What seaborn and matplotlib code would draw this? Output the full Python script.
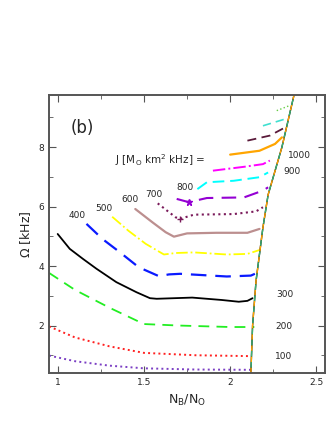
import numpy as np
import pandas as pd
import matplotlib
matplotlib.use("Agg")
import matplotlib.pyplot as plt
import seaborn as sns

# constant-J sequences: N_B/N_O vs Omega [kHz]
j_values = [50, 100, 200, 300, 400, 500, 600, 700, 800, 900, 1000, 1100, 1200, 1300, 1400]
x_50 = [0.95, 1.1, 1.3, 1.5, 1.8, 2.12]
y_50 = [0.99, 0.80, 0.65, 0.56, 0.52, 0.51]
x_100 = [0.95, 1.1, 1.3, 1.5, 1.8, 2.12]
y_100 = [1.97, 1.60, 1.30, 1.08, 1.00, 0.97]
x_200 = [0.95, 1.1, 1.3, 1.5, 1.7, 2.0, 2.14]
y_200 = [3.77, 3.20, 2.60, 2.05, 2.00, 1.95, 1.95]
x_300 = [1.0, 1.07, 1.147, 1.225, 1.34, 1.457, 1.535, 1.574, 1.78, 1.95, 2.05, 2.1, 2.13]
y_300 = [5.08, 4.58, 4.24, 3.91, 3.46, 3.12, 2.92, 2.90, 2.94, 2.86, 2.80, 2.83, 2.92]
x_400 = [1.167, 1.26, 1.355, 1.47, 1.587, 1.645, 1.71, 1.98, 2.12, 2.155]
y_400 = [5.42, 4.91, 4.49, 3.96, 3.66, 3.72, 3.74, 3.65, 3.68, 3.77]
x_500 = [1.316, 1.41, 1.51, 1.616, 1.684, 1.79, 1.98, 2.10, 2.17]
y_500 = [5.66, 5.19, 4.75, 4.39, 4.44, 4.46, 4.39, 4.41, 4.54]
x_600 = [1.45, 1.55, 1.626, 1.674, 1.75, 1.92, 2.10, 2.17]
y_600 = [5.92, 5.47, 5.14, 4.99, 5.10, 5.12, 5.12, 5.25]
x_700 = [1.58, 1.684, 1.71, 1.79, 2.02, 2.15, 2.19]
y_700 = [6.11, 5.64, 5.59, 5.73, 5.75, 5.84, 5.98]
x_800 = [1.69, 1.76, 1.865, 2.08, 2.19, 2.22]
y_800 = [6.26, 6.15, 6.29, 6.31, 6.54, 6.65]
x_900 = [1.81, 1.865, 2.02, 2.17, 2.22]
y_900 = [6.59, 6.82, 6.87, 6.99, 7.15]
x_1000 = [1.90, 2.08, 2.19, 2.23]
y_1000 = [7.21, 7.34, 7.43, 7.55]
x_1100 = [2.00, 2.17, 2.26, 2.30]
y_1100 = [7.75, 7.88, 8.11, 8.33]
x_1200 = [2.10, 2.23, 2.32]
y_1200 = [8.22, 8.39, 8.67]
x_1300 = [2.19, 2.32]
y_1300 = [8.72, 8.95]
x_1400 = [2.27, 2.34]
y_1400 = [9.23, 9.39]

# mass-shedding limit
kep_x = [2.12, 2.13, 2.15, 2.17, 2.19, 2.22, 2.26, 2.30, 2.34, 2.37]
kep_y = [0.40, 2.00, 3.50, 4.40, 5.30, 6.40, 7.20, 8.00, 9.00, 9.75]

curves = [x_50, x_100, x_200, x_300, x_400, x_500, x_600, x_700,
          x_800, x_900, x_1000, x_1100, x_1200, x_1300, x_1400]
curves_y = [y_50, y_100, y_200, y_300, y_400, y_500, y_600, y_700,
            y_800, y_900, y_1000, y_1100, y_1200, y_1300, y_1400]

colors = ["#7b3fc4", "#ff2020", "#22ee22", "black", "#0a1aff", "#ffff00",
          "#bc8f8f", "#7a1a5a", "#9400d3", "#00ffff", "#ff00ff", "#ffa500",
          "#5a1a3a", "#40e0d0", "#66cc44"]
styles = [":", ":", (0, (6, 4)), "-", (0, (7, 4)), "-.", "-", ":",
          (0, (7, 4)), (0, (6, 3)), "-.", "-", (0, (5, 3)), (0, (5, 3)), ":"]
widths = [1.4, 1.4, 1.3, 1.3, 1.6, 1.3, 1.6, 1.5, 1.5, 1.4, 1.4, 1.6, 1.3, 1.2, 1.0]

rows = []
for j, xs, ys in zip(j_values, curves, curves_y):
    for a, b in zip(xs, ys):
        rows.append({"J": j, "ratio": a, "omega": b})
df = pd.DataFrame(rows)

sns.set_style("ticks")
fig = plt.figure(figsize=(3.27, 4.23), dpi=100)
ax = fig.add_axes([0.15, 0.118, 0.844, 0.657])

for i, j in enumerate(j_values):
    sub = df[df["J"] == j]
    sns.lineplot(data=sub, x="ratio", y="omega", color=colors[i], linestyle=styles[i],
                 linewidth=widths[i], ax=ax, sort=False, estimator=None)

kep = pd.DataFrame({"ratio": kep_x, "omega": kep_y})
sns.lineplot(data=kep, x="ratio", y="omega", color="black", linewidth=1.0, ax=ax, sort=False, estimator=None)
sns.lineplot(data=kep, x="ratio", y="omega", color="#ffa500", linewidth=1.0, linestyle=(0, (4, 4)), ax=ax, sort=False, estimator=None)
sns.lineplot(data=kep, x="ratio", y="omega", color="#3cb371", linewidth=1.0, linestyle=(4, (4, 4)), ax=ax, sort=False, estimator=None)

# small markers at the minima
ax.plot([1.76], [6.15], marker="*", color="#9400d3", markersize=5)
ax.plot([1.71], [5.59], marker="+", color="#7a1a5a", markersize=5)

# J labels
lab_pos = {100: (2.31, 0.96), 200: (2.31, 1.97), 300: (2.32, 3.04), 400: (1.11, 5.70),
           500: (1.27, 5.94), 600: (1.42, 6.24), 700: (1.56, 6.40), 800: (1.74, 6.63),
           900: (2.36, 7.19), 1000: (2.40, 7.71)}
for j, (a, b) in lab_pos.items():
    ax.text(a, b, str(j), fontsize=6.5, ha="center", va="center")

ax.text(1.145, 8.63, "(b)", fontsize=12, ha="center", va="center")
ax.text(1.33, 7.55, r"J [M$_{\rm O}$ km$^2$ kHz] =", fontsize=7.5, ha="left", va="center")

ax.set_xlim(0.95, 2.55)
ax.set_ylim(0.4, 9.75)
ax.set_xticks([1, 1.5, 2, 2.5])
ax.set_xticklabels(["1", "1.5", "2", "2.5"])
ax.set_yticks([2, 4, 6, 8])
ax.set_xticks([1.25, 1.75, 2.25], minor=True)
ax.set_yticks([1, 3, 5, 7, 9], minor=True)
ax.tick_params(which="both", direction="in", top=True, right=True, labelsize=6.5, color="#555555")
ax.tick_params(which="major", length=5)
ax.tick_params(which="minor", length=3)
for sp in ax.spines.values():
    sp.set_color("#555555")
    sp.set_linewidth(1.4)
ax.set_xlabel(r"N$_{\rm B}$/N$_{\rm O}$", fontsize=9)
ax.set_ylabel(r"$\Omega$ [kHz]", fontsize=9)

fig.savefig("out.png", dpi=100)
